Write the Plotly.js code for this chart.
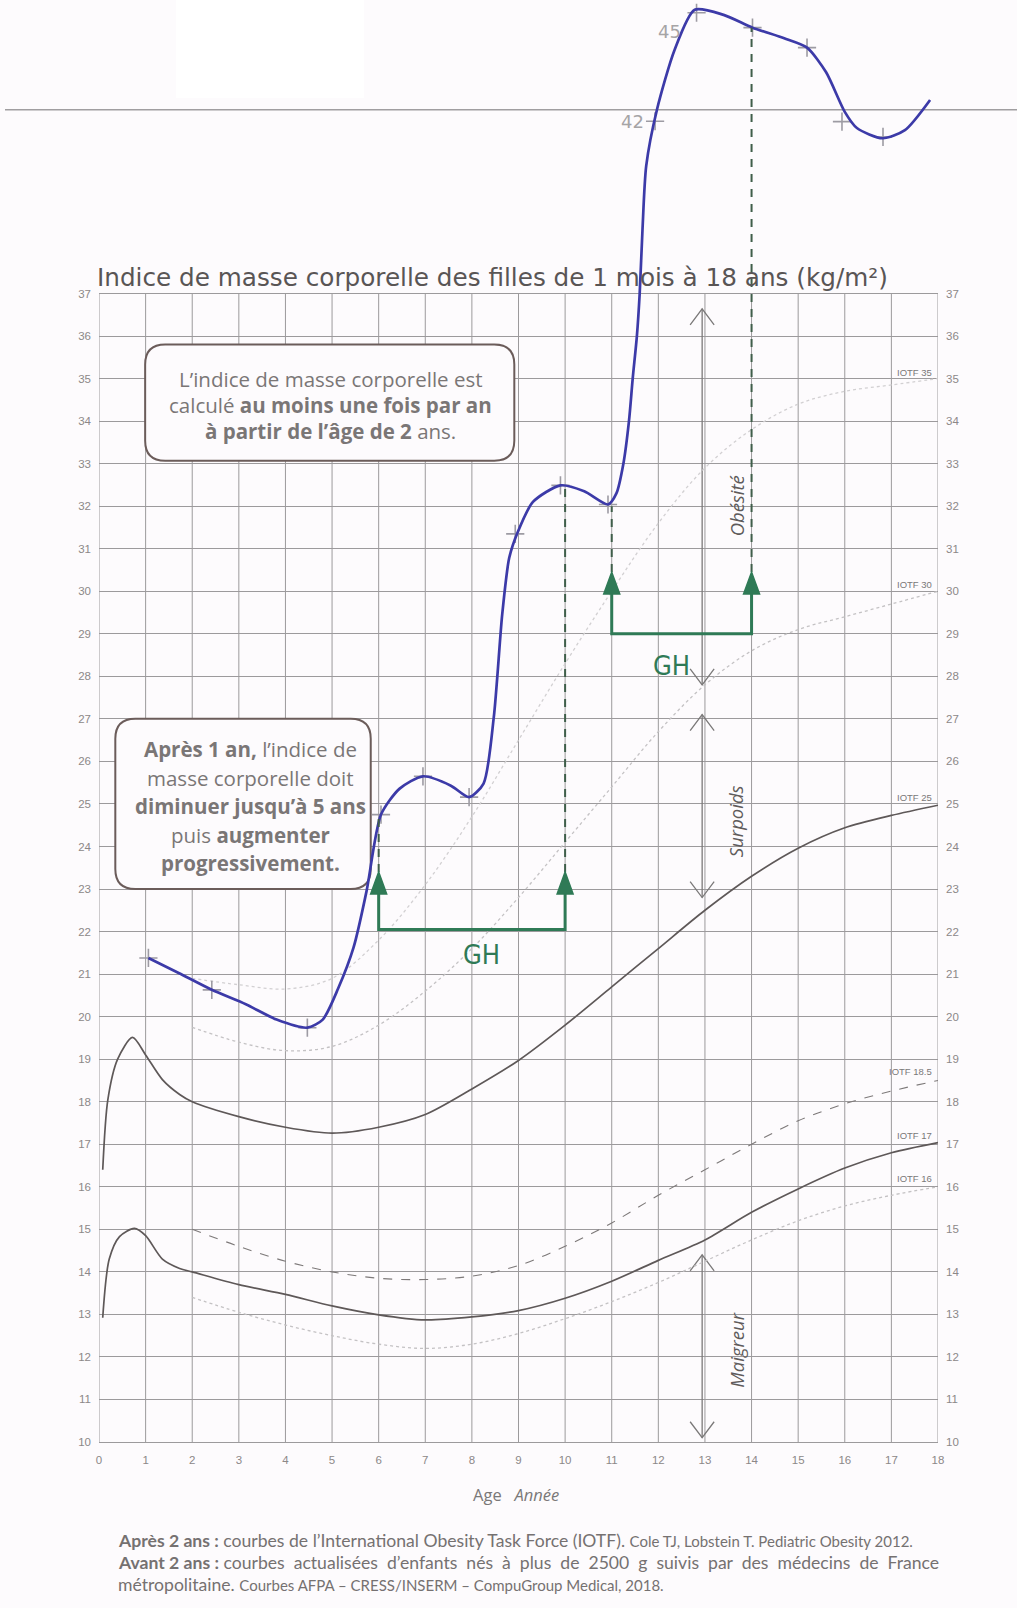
<!DOCTYPE html>
<html><head><meta charset="utf-8">
<script src="https://cdn.plot.ly/plotly-3.0.1.min.js"></script>
<style>html,body{margin:0;padding:0;background:#fdfbfd;}#chart{width:1017px;height:1608px;}</style>
</head><body><div id="chart"></div>
<script>
// ---------- axes ----------
const ageTicks = [0,1,2,3,4,5,6,7,8,9,10,11,12,13,14,15,16,17,18];
const bmiTicks = [10,11,12,13,14,15,16,17,18,19,20,21,22,23,24,25,26,27,28,29,30,31,32,33,34,35,36,37];

// ---------- printed reference curves ----------
const upperAge = [0.08,0.19,0.4,0.72,1.0,1.36,1.73,2,3,4,5,6,7,8,9,10,11,12,13,14,15,16,17,18];
const upperBmi = [16.4,18.05,19.0,19.51,19.1,18.52,18.17,18.0,17.65,17.4,17.26,17.4,17.7,18.3,18.97,19.8,20.7,21.6,22.5,23.3,23.96,24.44,24.73,24.97];
const lowerAge = [0.08,0.22,0.44,0.76,1.0,1.36,1.73,2,3,4,5,6,7,8,9,10,11,12,13,14,15,16,17,18];
const lowerBmi = [12.92,14.3,14.83,15.02,14.85,14.3,14.08,14.0,13.7,13.47,13.2,12.99,12.87,12.94,13.09,13.38,13.78,14.27,14.75,15.4,15.95,16.44,16.8,17.04];
const iotfAge = [2,3,4,5,6,7,8,9,10,11,12,13,14,15,16,17,18];
const iotf185 = [15.0,14.6,14.25,14.0,13.85,13.82,13.9,14.15,14.6,15.15,15.8,16.4,17.0,17.55,17.95,18.25,18.5];
const iotf16  = [13.4,13.05,12.75,12.5,12.3,12.2,12.3,12.55,12.9,13.3,13.75,14.25,14.75,15.2,15.55,15.8,16.0];
const iotf30  = [19.75,19.4,19.2,19.3,19.8,20.6,21.6,22.8,24.1,25.4,26.7,27.8,28.6,29.1,29.4,29.7,30.0];
const iotf35  = [20.9,20.75,20.65,20.9,21.8,23.1,24.7,26.5,28.3,30.0,31.6,32.9,33.8,34.4,34.7,34.85,35.0];
const iotfLabels = ['IOTF 35','IOTF 30','IOTF 25','IOTF 18.5','IOTF 17','IOTF 16'];
const iotfLabelY = [35.14,30.15,25.16,18.7,17.2,16.2];

// ---------- hand-drawn patient curve ----------
const patAge = [1.06,1.72,2.42,3.15,3.81,4.47,4.8,5.13,5.46,5.74,6.05,6.45,6.95,7.55,7.94,8.25,8.47,8.65,8.8,8.98,9.31,9.9,10.41,10.92,11.1,11.25,11.37,11.45,11.54,11.6,11.66,11.74,11.97,12.35,12.78,13.4,14.02,14.7,15.19,15.6,16.0,16.26,16.81,17.29,17.83];
const patBmi = [21.38,21.02,20.63,20.29,19.93,19.74,19.93,20.66,21.62,22.95,24.75,25.36,25.65,25.43,25.16,25.48,27.04,29.45,30.78,31.38,32.1,32.49,32.35,32.04,32.3,33.0,34.0,35.0,36.0,37.0,38.5,40.0,41.32,42.73,43.67,43.55,43.25,43.0,42.78,42.2,41.27,40.89,40.65,40.84,41.55];
const crossAge = [1.06,2.42,4.47,6.05,6.95,7.94,8.93,9.9,10.92,11.93,12.82,14.02,15.19,15.94,16.82];
const crossBmi = [21.38,20.63,19.74,24.75,25.65,25.16,31.35,32.49,32.04,41.05,43.6,43.25,42.78,41.04,40.68];
const handLabels = ['42','45'];
const handLabelAge = [11.45,12.25];
const handLabelBmi = [41.05,43.15];
const handLineBmi = 41.32;

// GH treatment brackets
const ghStart = [6,11];
const ghEnd = [10,14];
const ghBase = [22.05,29.0];
const ghTip = [23.4,30.45];
const ghTextAge = [8.2,12.28];
const ghTextBmi = [21.45,28.25];
const dashAge = [6,10,11,14];
const dashFrom = [23.4,23.4,30.45,30.45];
const dashTo = [24.7,32.45,32.0,43.25];

// category arrows
const catLabel = ['Obésité','Surpoids','Maigreur'];
const catAge = [12.94,12.94,12.94];
const catTop = [36.64,27.1,14.4];
const catBot = [27.8,22.8,10.1];
const catLabelY = [32.0,24.6,12.15];

// ---------- geometry helpers ----------
const PXX = 46.59, PXY = 42.54, PLOT_L = 99, PLOT_W = 839, PLOT_H = 1442;
const px2paperX = px => (px - PLOT_L) / PLOT_W;
const px2paperY = py => (PLOT_H - py) / PLOT_H;
function roundRect(x0,x1,y0,y1){
  const rx = 20/PXX, ry = 20/PXY;
  return `M${x0+rx},${y1} L${x1-rx},${y1} Q${x1},${y1} ${x1},${y1-ry} L${x1},${y0+ry} Q${x1},${y0} ${x1-rx},${y0} L${x0+rx},${y0} Q${x0},${y0} ${x0},${y0+ry} L${x0},${y1-ry} Q${x0},${y1} ${x0+rx},${y1} Z`;
}
const shapes = [];
shapes.push({type:'rect',xref:'paper',yref:'paper',x0:px2paperX(176),x1:px2paperX(364),y0:px2paperY(98),y1:px2paperY(0),fillcolor:'#ffffff',line:{width:0},layer:'below'});
ageTicks.forEach(a => shapes.push({type:'line',x0:a,x1:a,y0:10,y1:37,line:{color:'#9c9a9c',width:1},layer:'below'}));
shapes.push({type:'line',xref:'paper',x0:px2paperX(5),x1:px2paperX(1017),y0:handLineBmi,y1:handLineBmi,line:{color:'#a09ea0',width:1.6},layer:'below'});
const boxes = [[0.99,8.91,33.07,35.8],[0.35,5.83,23.0,27.0]];
boxes.forEach(b => shapes.push({type:'path',path:roundRect(b[0],b[1],b[2],b[3]),fillcolor:'#fdfbfd',line:{color:'#6b5c5a',width:2},layer:'between'}));
const adx = 12/PXX, ady = 16/PXY;
catAge.forEach((x,i)=>{
  shapes.push({type:'line',x0:x,x1:x,y0:catBot[i],y1:catTop[i],line:{color:'#7a7878',width:1.3},layer:'between'});
  shapes.push({type:'path',path:`M${x-adx},${catTop[i]-ady} L${x},${catTop[i]} L${x+adx},${catTop[i]-ady}`,line:{color:'#7a7878',width:1.3},layer:'between'});
  shapes.push({type:'path',path:`M${x-adx},${catBot[i]+ady} L${x},${catBot[i]} L${x+adx},${catBot[i]+ady}`,line:{color:'#7a7878',width:1.3},layer:'between'});
});
dashAge.forEach((x,i)=>shapes.push({type:'line',x0:x,x1:x,y0:dashFrom[i],y1:dashTo[i],line:{color:'#3f5e4a',width:2,dash:'8px,7px'},layer:'above'}));
const green = '#2f7a56';
ghStart.forEach((s,i)=>{
  const e = ghEnd[i], b = ghBase[i], t = ghTip[i];
  const hw = 8/PXX, hh = 22/PXY;
  shapes.push({type:'path',path:`M${s},${t-hh} L${s},${b} L${e},${b} L${e},${t-hh}`,line:{color:green,width:3},layer:'above'});
  [s,e].forEach(x=>shapes.push({type:'path',path:`M${x-hw},${t-hh} L${x},${t} L${x+hw},${t-hh} Z`,fillcolor:green,line:{color:green,width:1.5},layer:'above'}));
});

// ---------- annotations ----------
const ann = [];
const greyTxt = '#7a7676';
ann.push({xref:'paper',x:px2paperX(95),y:37.37,xanchor:'left',yanchor:'middle',showarrow:false,text:'Indice de masse corporelle des filles de 1 mois à 18 ans (kg/m²)',font:{family:'DejaVu Sans',size:24.7,color:'#595555'}});
const boxFont = {family:'Open Sans',size:20.5,color:greyTxt};
const box1Lines = ["L’indice de masse corporelle est","calculé <b>au moins une fois par an</b>","<b>à partir de l’âge de 2</b> ans."];
const box1Y = [35.0,34.38,33.76];
box1Lines.forEach((t,i)=>ann.push({x:4.97,y:box1Y[i],yanchor:'middle',showarrow:false,text:t,font:boxFont}));
const box2Lines = ["<b>Après 1 an,</b> l’indice de","masse corporelle doit","<b>diminuer jusqu’à 5 ans</b>","puis <b>augmenter</b>","<b>progressivement.</b>"];
const box2Y = [26.3,25.62,24.95,24.27,23.62];
box2Lines.forEach((t,i)=>ann.push({x:3.25,y:box2Y[i],yanchor:'middle',showarrow:false,text:t,font:boxFont}));
iotfLabels.forEach((t,i)=>ann.push({x:17.92,y:iotfLabelY[i],xanchor:'right',yanchor:'middle',showarrow:false,text:t,font:{family:'Liberation Sans',size:9.5,color:'#7a7878'}}));
catLabel.forEach((t,i)=>ann.push({x:13.67,y:catLabelY[i],textangle:-90,yanchor:'middle',showarrow:false,text:'<i>'+t+'</i>',font:{family:'Open Sans',size:18.5,color:'#5f5b5b'}}));
handLabels.forEach((t,i)=>ann.push({x:handLabelAge[i],y:handLabelBmi[i],yanchor:'middle',showarrow:false,text:t,font:{family:'DejaVu Sans',size:18,color:'#a6a4a6'}}));
ghTextAge.forEach((x,i)=>ann.push({x:x,y:ghTextBmi[i],yanchor:'middle',showarrow:false,text:'GH',font:{family:'DejaVu Sans Condensed',size:27,color:green}}));
ann.push({xref:'paper',yref:'paper',x:px2paperX(516),y:px2paperY(1494),xanchor:'center',yanchor:'middle',showarrow:false,text:'Age   <i>Année</i>',font:{family:'Open Sans',size:16.5,color:'#7a7878'}});
const footLines = [
  "<b>Après 2 ans :</b> courbes de l’International Obesity Task Force (IOTF). <span style='font-size:15px'>Cole TJ, Lobstein T. Pediatric Obesity 2012.</span>",
  "<b>Avant 2 ans :</b> courbes  actualisées  d’enfants  nés  à  plus  de  2500  g  suivis  par  des  médecins  de  France",
  "métropolitaine. <span style='font-size:15px'>Courbes AFPA – CRESS/INSERM – CompuGroup Medical, 2018.</span>"
];
const footPx = [1540,1562,1584];
footLines.forEach((t,i)=>ann.push({xref:'paper',yref:'paper',x:px2paperX(116),y:px2paperY(footPx[i]),xanchor:'left',yanchor:'middle',showarrow:false,text:t,font:{family:'Lato',size:17.6,color:'#757171'}}));

// ---------- traces ----------
const traces = [
  {x:upperAge,y:upperBmi,mode:'lines',line:{color:'#5e5858',width:1.7,shape:'spline',smoothing:0.8},hoverinfo:'skip'},
  {x:lowerAge,y:lowerBmi,mode:'lines',line:{color:'#5e5858',width:1.7,shape:'spline',smoothing:0.8},hoverinfo:'skip'},
  {x:iotfAge,y:iotf185,mode:'lines',line:{color:'#7d7979',width:1.1,dash:'dash',shape:'spline'},hoverinfo:'skip'},
  {x:iotfAge,y:iotf16,mode:'lines',line:{color:'#c4c2c4',width:1.3,dash:'dot',shape:'spline'},hoverinfo:'skip'},
  {x:iotfAge,y:iotf30,mode:'lines',line:{color:'#c4c2c4',width:1.3,dash:'dot',shape:'spline'},hoverinfo:'skip'},
  {x:iotfAge,y:iotf35,mode:'lines',line:{color:'#d2d0d2',width:1.3,dash:'dot',shape:'spline'},hoverinfo:'skip'},
  {x:crossAge,y:crossBmi,mode:'markers',marker:{symbol:'cross-thin',size:13,line:{color:'#9d9ba3',width:1.6}},hoverinfo:'skip'},
  {x:patAge,y:patBmi,mode:'lines',line:{color:'#3c3aa8',width:2.7,shape:'spline',smoothing:0.7},hoverinfo:'skip'},
  {x:[0],y:[10],yaxis:'y2',mode:'markers',marker:{opacity:0},hoverinfo:'skip'}
];

const tickFont = {family:'Liberation Sans',size:11.5,color:'#8c8888'};
const layout = {
  width:1017,height:1608,
  margin:{l:99,r:79,t:0,b:166},
  paper_bgcolor:'#fdfbfd',plot_bgcolor:'rgba(0,0,0,0)',
  showlegend:false,
  xaxis:{range:[0,18],tickvals:ageTicks,showgrid:false,zeroline:false,showline:true,linecolor:'#9c9a9c',linewidth:1,ticks:'',tickfont:tickFont,ticklabelstandoff:7,fixedrange:true},
  yaxis:{range:[10,43.9],tickvals:bmiTicks,showgrid:true,gridcolor:'#9c9a9c',gridwidth:1,zeroline:false,showline:false,ticks:'',tickfont:tickFont,ticklabelstandoff:7,fixedrange:true},
  yaxis2:{overlaying:'y',side:'right',anchor:'x',range:[10,43.9],tickvals:bmiTicks,showgrid:false,zeroline:false,showline:false,ticks:'',tickfont:tickFont,ticklabelstandoff:7,fixedrange:true},
  shapes:shapes,
  annotations:ann
};
Plotly.newPlot('chart',traces,layout,{displayModeBar:false,staticPlot:true});
</script></body></html>
